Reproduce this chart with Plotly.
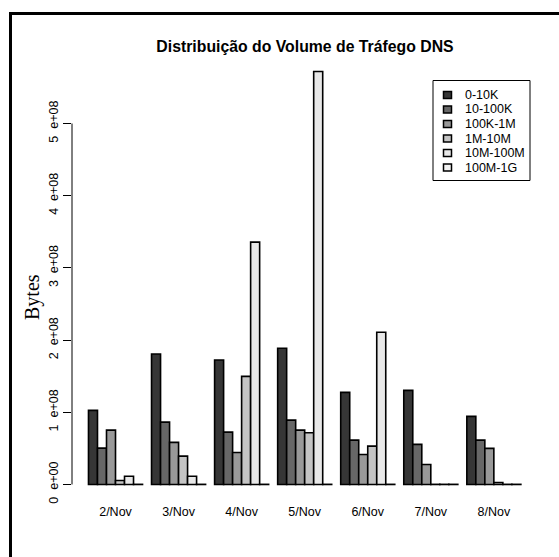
import plotly.graph_objects as go

# ---- data (values in units of 1e8 bytes) ----
days = ["2/Nov", "3/Nov", "4/Nov", "5/Nov", "6/Nov", "7/Nov", "8/Nov"]
series_names = ["0-10K", "10-100K", "100K-1M", "1M-10M", "10M-100M", "100M-1G"]
v_0_10K = [1.026, 1.807, 1.724, 1.886, 1.276, 1.304, 0.943]
v_10_100K = [0.503, 0.864, 0.725, 0.892, 0.614, 0.555, 0.614]
v_100K_1M = [0.753, 0.583, 0.444, 0.753, 0.416, 0.277, 0.500]
v_1M_10M = [0.055, 0.393, 1.498, 0.716, 0.531, 0.002, 0.028]
v_10M_100M = [0.115, 0.115, 3.357, 5.720, 2.108, 0.002, 0.002]
v_100M_1G = [0.002, 0.002, 0.002, 0.002, 0.002, 0.002, 0.002]
scale = 1e8
y_ticks = [0, 1e8, 2e8, 3e8, 4e8, 5e8]
y_tick_text = ["0\u00a0\u00a0e+00", "1\u00a0\u00a0e+08", "2\u00a0\u00a0e+08",
               "3\u00a0\u00a0e+08", "4\u00a0\u00a0e+08", "5\u00a0\u00a0e+08"]
colors = ["#363636", "#676767", "#999999", "#c4c4c4", "#e8e8e8", "#f2f2f2"]

all_series = [v_0_10K, v_10_100K, v_100K_1M, v_1M_10M, v_10M_100M, v_100M_1G]

SANS = "Liberation Sans, Arial, Helvetica, sans-serif"
SERIF = "Liberation Serif, Times New Roman, serif"

# plot-area geometry in pixels (for paper-coordinate conversion)
W, H = 559, 557
ML, MR, MT, MB = 72, 27, 55, 56
PW, PH = W - ML - MR, H - MT - MB


def px(xp):
    return (xp - ML) / PW


def py(yp):
    return (H - MB - yp) / PH


fig = go.Figure()
for name, vals, col in zip(series_names, all_series, colors):
    fig.add_trace(go.Bar(
        x=days, y=[v * scale for v in vals], name=name, showlegend=False,
        marker=dict(color=col, line=dict(color="black", width=1.6)),
    ))

ymax = max(max(s) for s in all_series) * scale
fig.update_layout(
    width=W, height=H,
    margin=dict(l=ML, r=MR, t=MT, b=MB),
    paper_bgcolor="white", plot_bgcolor="white",
    barmode="group", bargap=1/7, bargroupgap=0,
    font=dict(family=SANS, size=12.5, color="black"),
    title=dict(text="<b>Distribuição do Volume de Tráfego DNS</b>",
               x=px(305), xref="paper", xanchor="center",
               y=1 - 46/557, yanchor="middle",
               font=dict(family=SANS, size=15.8, color="black")),
    xaxis=dict(range=[-0.69, 6.605], showgrid=False, zeroline=False, showline=False,
               ticks="", tickfont=dict(family=SANS, size=12.5, color="black"),
               ticklabelstandoff=1),
    yaxis=dict(range=[-0.04 * ymax, 1.04 * ymax], showgrid=False, zeroline=False,
               showline=False, ticks="outside", ticklen=8, tickwidth=1, tickcolor="black",
               tickvals=y_ticks, ticktext=y_tick_text, tickangle=-90,
               tickfont=dict(family=SANS, size=12.5, color="black"),
               ticklabelstandoff=0),
)

# y axis line spanning the tick range (R style)
fig.add_shape(type="line", xref="paper", yref="y", x0=0, x1=0,
              y0=y_ticks[0], y1=y_ticks[-1], line=dict(color="black", width=1))

# outer frame: a large bordered box whose right/bottom edges fall outside the page
fig.add_annotation(text="\u00a0", xref="paper", yref="paper",
                   x=px(9), y=py(12), xanchor="left", yanchor="top",
                   width=800, height=800, showarrow=False,
                   bordercolor="black", borderwidth=3, borderpad=0,
                   bgcolor="rgba(0,0,0,0)")

# legend (R style box legend)
fig.add_shape(type="rect", xref="paper", yref="paper",
              x0=px(433), x1=px(530), y0=py(180.5), y1=py(80.5),
              line=dict(color="black", width=1), fillcolor="white")
row0, step = 95.0, 14.5
for i, (name, col) in enumerate(zip(series_names, colors)):
    cy = row0 + i * step
    fig.add_shape(type="rect", xref="paper", yref="paper",
                  x0=px(443.5), x1=px(451.5), y0=py(cy + 3.5), y1=py(cy - 3.5),
                  line=dict(color="black", width=1.5), fillcolor=col)
    fig.add_annotation(text=name, xref="paper", yref="paper",
                       x=px(462.5), y=py(cy), xanchor="left", yanchor="middle",
                       showarrow=False,
                       font=dict(family=SANS, size=12.5, color="black"))

# y axis title
fig.add_annotation(text="Bytes", xref="paper", yref="paper",
                   x=px(32), y=py(297), xanchor="center", yanchor="middle",
                   textangle=-90, showarrow=False,
                   font=dict(family=SERIF, size=20, color="black"))

fig.write_html("out.html")
